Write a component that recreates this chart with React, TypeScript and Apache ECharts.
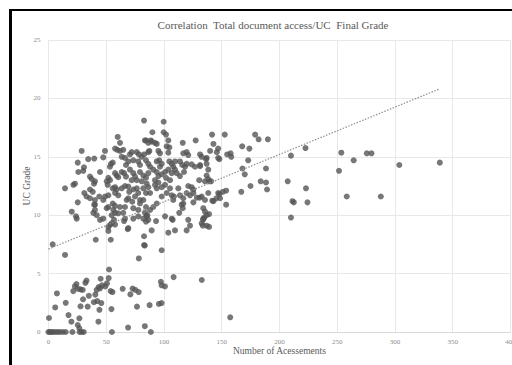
import React, { useEffect, useRef } from "react";
import * as echarts from "echarts";

const chartTitle = "Correlation  Total document access/UC  Final Grade";
const xAxisTitle = "Number of Acessements";
const yAxisTitle = "UC Grade";

// Main cluster of students (accesses, grade)
const mainCluster: [number, number][] = [
  [82.8, 18.1], [99.8, 18.0], [90, 17.1], [99.8, 17.1], [101.8, 16.9], [60, 16.7], [62, 16.2],
  [84.5, 16.4], [86.5, 16.2], [89.4, 16.3], [92.3, 16.2], [93.8, 16.1], [83.6, 16.4], [88.6, 16.4],
  [103.8, 16.4], [102.4, 15.9], [104.7, 15.8], [116.3, 16.2], [127.5, 16.4],
  [28.8, 15.5], [49, 15.5], [57.7, 15.7], [59.7, 15.6], [62, 15.5], [64.8, 15.6],
  [70.6, 15.2], [72.1, 15.4], [76.5, 15.4], [78.4, 15.2],
  [80.8, 15.0], [82.8, 15.2], [86.5, 15.4], [87.4, 15.5],
  [95.2, 15.5], [96.6, 15.3], [103.8, 15.35],
  [116.8, 15.3], [119.7, 15.4], [121.1, 15.15],
  [132.7, 15.0], [136.5, 14.8],
  [34.5, 14.8], [39.7, 14.85], [47.5, 14.95],
  [25.4, 14.5], [30.8, 14.1],
  [54.2, 14.4], [55.7, 14.5], [53.3, 14.15],
  [63.5, 15.0], [66.3, 14.9], [69.2, 14.6], [67.2, 14.3],
  [73.5, 14.7], [77.8, 14.6], [79.3, 14.3],
  [84.5, 14.7], [86.5, 14.4], [88, 14.15],
  [93.8, 14.6], [96, 14.7], [98.1, 14.4], [96.6, 14.15],
  [104.7, 14.6], [106.8, 14.4], [109.6, 14.6], [108.1, 14.15],
  [113.9, 14.6], [115.9, 14.3], [118.3, 14.15], [119.7, 14.4],
  [124, 14.35], [126.9, 14.15],
  [131.3, 14.3], [137, 14.4], [138.4, 13.9],
  [25.9, 13.7], [30.2, 13.8],
  [36, 13.3], [37.5, 13.1],
  [44.7, 13.7],
  [40.3, 12.9], [39.5, 12.7],
  [51.9, 13.2], [53.3, 13.0], [50.5, 12.9], [51.3, 12.6],
  [57.7, 13.6], [59.1, 13.4], [60.5, 13.25], [63.5, 13.7], [65.5, 13.6], [67.2, 13.3],
  [70.6, 13.9], [73.5, 13.6], [75, 13.3], [72.1, 13.0], [76.5, 13.0],
  [79.3, 13.7], [82.2, 13.4], [80.8, 12.9], [84.5, 13.2], [86.5, 13.6],
  [90.8, 13.9], [93.8, 13.7], [92.3, 13.0], [95.2, 13.35], [98.1, 13.5],
  [101, 13.7], [103.8, 13.9], [106.8, 13.6], [101.8, 13.2], [105.3, 13.0],
  [109.6, 13.9], [111.1, 13.6], [113.9, 13.35], [117.4, 13.7],
  [121.1, 12.5], [124, 12.4], [125.5, 12.2],
  [130.6, 13.0], [135.6, 12.9], [138.4, 13.1],
  [14.4, 12.3], [21.6, 12.6], [23, 12.7],
  [31.1, 11.9], [36, 12.2], [38.4, 12.0], [36, 11.45],
  [40.3, 11.3], [40.3, 10.9], [38.9, 10.2], [39.7, 10.9], [40.3, 10.45], [41.8, 10.0], [44.7, 9.6],
  [47.5, 11.3], [49, 11.6], [51.9, 11.7], [44, 11.6], [33, 11.6],
  [55.7, 12.3], [57.7, 12.4], [59.1, 12.2], [57.7, 11.9], [60.5, 11.7],
  [63.5, 12.3], [66.3, 12.5], [69.2, 12.45], [70, 12.0],
  [73.5, 12.2], [76.5, 12.3], [77.8, 11.9], [75, 11.6], [79.3, 11.3],
  [82.2, 12.3], [85.1, 12.7], [86.5, 12.4], [84.5, 11.9], [88, 11.9],
  [92.3, 12.6], [95.2, 12.8], [93.8, 12.3], [98.1, 12.4], [101, 12.6],
  [102.4, 11.9], [105.3, 12.3], [106.8, 11.7], [108.7, 11.6], [108.1, 11.3],
  [112.5, 12.3], [113.9, 11.7], [116.8, 11.45], [119.7, 11.9], [122.6, 11.7], [125.5, 11.9],
  [132.7, 11.6], [135.6, 11.3], [138.4, 11.9],
  [25.4, 11.1], [20.2, 10.3], [23.9, 9.9], [24.5, 9.7],
  [50.5, 10.6], [55.7, 11.0], [57.7, 10.8], [62, 10.7], [67.8, 11.3], [69.2, 11.45], [72.6, 11.15],
  [64.8, 10.2], [66.3, 9.7], [60.5, 10.16], [66.3, 10.7], [65.5, 9.5], [68.7, 8.8],
  [54.8, 10.0], [57.7, 10.2], [51.9, 10.7], [56.2, 10.45],
  [47.5, 9.7], [51.9, 9.0], [53.3, 9.16], [54.8, 9.3], [57.7, 9.2], [56.8, 9.6], [51.9, 8.65],
  [73.5, 10.6], [77.8, 10.45], [79.3, 11.0], [82.2, 11.3], [84.5, 10.7], [83.6, 10.2], [85.6, 10.0], [88, 10.45],
  [85.1, 9.9], [86.5, 9.6], [82.2, 9.7], [84.5, 9.45], [77.8, 9.9],
  [90.8, 10.7], [93.8, 11.0], [98.1, 11.6],
  [93.2, 9.5], [101, 9.9], [106.8, 9.7], [107.6, 9.6],
  [69.2, 8.9], [73.5, 9.7],
  [82.8, 8.2], [82.8, 7.45],
  [89.4, 8.7], [98.1, 7.0], [103.8, 8.5], [109.6, 8.7],
  [113.3, 10.2], [116.3, 10.6], [115.4, 10.9], [116.8, 11.0], [125.5, 11.1],
  [128.5, 11.5], [131, 11.5],
  [134.1, 10.6], [135.6, 10.3], [137, 10.0],
  [134.1, 9.7], [132.7, 9.3], [137, 9.1],
  [119.7, 8.7], [122.6, 9.1], [121.1, 9.6],
  [3.7, 7.5], [14.4, 6.6], [41, 7.9], [54, 7.9], [83.5, 7.4], [78.3, 6.3],
  [141.7, 16.9], [152.7, 16.9], [142.9, 16.1], [179, 16.9], [182, 16.5], [190, 16.5],
  [167.8, 15.9], [174, 15.7], [140, 15.5], [145.8, 15.4], [147, 15.7], [148, 14.8], [147, 14.9],
  [154.8, 15.2], [157.7, 15.3], [158.3, 15.0], [173, 14.7], [168, 14.0], [170, 13.5],
  [188.4, 14.0], [175, 12.5], [167, 12.0], [183.8, 12.9], [188.4, 12.8], [189.3, 12.2],
  [140.9, 12.9], [142.9, 11.2], [148, 11.8], [151, 12.0], [153.9, 12.1], [153.9, 10.9],
  [147, 11.9], [148.6, 11.45], [145.5, 11.45], [141.9, 11.24],
  [139.1, 10.1], [135, 9.8], [133.9, 9.6], [133.7, 9.1], [139.1, 9.0],
  [131.3, 15.2], [137, 14.9], [131.3, 14.2], [137, 13.4], [139.3, 12.9],
];

// Students with many accesses
const heavyUsers: [number, number][] = [
  [210, 15.1], [222.6, 15.75], [207.2, 12.9], [223, 12.3], [211.3, 11.2], [212.5, 11.1],
  [224.3, 11.1], [210, 9.8], [253.6, 15.35], [251.6, 13.8], [264.3, 14.7], [258.3, 11.6],
  [275.7, 15.3], [279.7, 15.3], [287.8, 11.6], [303.8, 14.3], [338.9, 14.5],
];

// Low-grade group
const lowCluster: [number, number][] = [
  [0.5, 1.2], [7.4, 3.3], [15, 2.5], [5.9, 2.1],
  [24.3, 4.1], [22.9, 3.9], [21.5, 3.5], [25.5, 3.7], [27.8, 3.65], [29.7, 3.6],
  [33, 4.4], [32, 4.2], [30, 2.8], [35, 3.1], [34, 2.17],
  [40.6, 3.2], [41.8, 3.6], [43.5, 3.85], [44.7, 3.74], [46.4, 4.0], [49.3, 3.9], [53.9, 3.5], [55.5, 3.42],
  [45.2, 4.56], [52.2, 4.62], [50.7, 4.17], [52.5, 5.35],
  [64.3, 3.7], [72.9, 3.72], [75.3, 3.6], [78.2, 3.42], [71, 3.22],
  [97.4, 4.3], [98, 4.0], [100.9, 3.9], [108.4, 4.7], [132.8, 4.45],
  [39.4, 2.55], [42.3, 2.65], [45.8, 2.48],
  [27.8, 2.2], [44.2, 1.9], [54.6, 1.96],
  [17.4, 1.45], [26.8, 1.17], [19.9, 0.88], [25.4, 0.6], [26.8, 0.32],
  [76.7, 2.17], [87.6, 2.3], [95.7, 2.4], [98, 2.48],
  [43.3, 0.88],
  [69, 0.38], [83.5, 0.5],
  [157.4, 1.26],
  [0, 0], [1.2, 0], [2.5, 0], [4, 0], [6, 0], [8, 0], [10, 0], [12.5, 0], [15, 0],
  [20.8, 0], [27, 0], [28.8, 0], [30.6, 0], [55, 0], [88.7, 0],
];

// Linear trend line endpoints (x range of the data)
const trendX = [0, 338.9];
const trendIntercept = 7.1;
const trendSlope = 0.0405;

const xTicks = { min: 0, max: 400, interval: 50 };
const yTicks = { min: 0, max: 25, interval: 5 };

export default function App() {
  const ref = useRef<HTMLDivElement>(null);
  useEffect(() => {
    if (!ref.current) return;
    const chart = echarts.init(ref.current, null, { renderer: "svg" });
    const serif = "Liberation Serif";
    const trend = trendX.map((x) => [x, trendIntercept + trendSlope * x]);
    chart.setOption({
      animation: false,
      backgroundColor: "#ffffff",
      title: {
        text: chartTitle,
        left: 268,
        top: 14,
        textAlign: "center",
        textStyle: { fontFamily: serif, fontSize: 11, fontWeight: "normal", color: "#595959" },
      },
      grid: { left: 48.4, right: 1.6, top: 40, bottom: 33, containLabel: false, outerBoundsMode: "none" },
      xAxis: {
        type: "value",
        ...xTicks,
        name: xAxisTitle,
        nameLocation: "middle",
        nameGap: 14,
        nameMoveOverlap: false,
        nameTextStyle: { fontFamily: serif, fontSize: 9.5, color: "#595959" },
        axisLine: { show: true, lineStyle: { color: "#d9d9d9", width: 1 } },
        axisTick: { show: false },
        axisLabel: { fontFamily: serif, fontSize: 7, color: "#8c8c8c", margin: 6 },
        splitLine: { show: true, lineStyle: { color: "#e8e8e8", width: 1 } },
      },
      yAxis: {
        type: "value",
        ...yTicks,
        name: yAxisTitle,
        nameLocation: "middle",
        nameGap: 16,
        nameMoveOverlap: false,
        nameTextStyle: { fontFamily: serif, fontSize: 9.5, color: "#595959" },
        axisLine: { show: false },
        axisTick: { show: false },
        axisLabel: { fontFamily: serif, fontSize: 7, color: "#8c8c8c", margin: 8 },
        splitLine: { show: true, lineStyle: { color: "#e8e8e8", width: 1 } },
      },
      graphic: [
        { type: "rect", left: 9, top: 9, shape: { width: 3, height: 360 }, style: { fill: "#000" } },
        { type: "rect", left: 9, top: 9, shape: { width: 510, height: 2 }, style: { fill: "#000" } },
      ],
      series: [
        {
          type: "scatter",
          data: mainCluster,
          symbolSize: 6,
          itemStyle: { color: "#555555" },
        },
        {
          type: "scatter",
          data: heavyUsers,
          symbolSize: 6,
          itemStyle: { color: "#555555" },
        },
        {
          type: "scatter",
          data: lowCluster,
          symbolSize: 6,
          itemStyle: { color: "#555555" },
        },
        {
          type: "line",
          data: trend,
          symbol: "none",
          z: 5,
          lineStyle: { color: "#8f8f8f", width: 1.2, type: [1.5, 1.5] },
        },
      ],
    });
    return () => chart.dispose();
  }, []);
  return (
    <div style={{ position: "fixed", left: 0, top: 0, width: 512, height: 365, background: "#fff" }}>
      <div ref={ref} style={{ width: 512, height: 365 }} />
    </div>
  );
}
